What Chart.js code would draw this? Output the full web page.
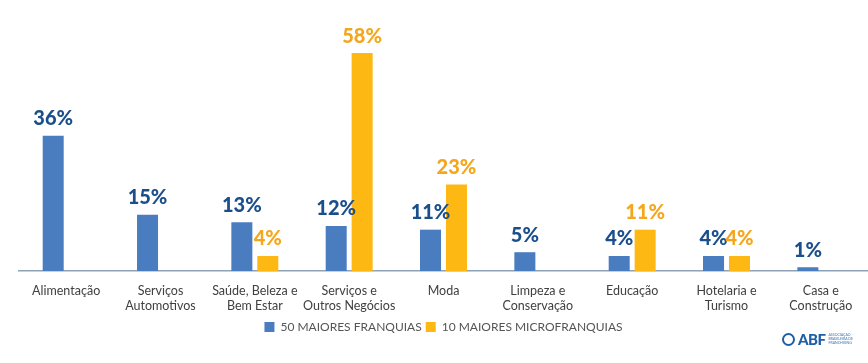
<!DOCTYPE html>
<html>
<head>
<meta charset="utf-8">
<script src="https://cdn.jsdelivr.net/npm/chart.js@4"></script>
<style>
  html, body { margin: 0; padding: 0; background: #fff; }
  #wrap { position: relative; width: 868px; height: 363px; }
  #logo { position: absolute; left: 782px; top: 330px; display: flex; align-items: center; font-family: Lato, sans-serif; color: #1f5fa8; }
  #logo .ic { width: 13px; height: 13px; border: 2px solid #1f5fa8; border-radius: 50%; box-sizing: border-box; margin-right: 3px; }
  #logo .abf { font-weight: 900; font-size: 15px; letter-spacing: -0.5px; }
  #logo .sub { font-size: 3.5px; line-height: 4px; margin-left: 3px; color: #3a74b8; }
</style>
</head>
<body>
<div id="wrap">
  <canvas id="chart" width="868" height="363"></canvas>
  <div id="logo"><div class="ic"></div><span class="abf">ABF</span><div class="sub">ASSOCIAÇÃO<br>BRASILEIRA DE<br>FRANCHISING</div></div>
</div>
<script>
const categorias = [
  ['Alimentação'],
  ['Serviços', 'Automotivos'],
  ['Saúde, Beleza e', 'Bem Estar'],
  ['Serviços e', 'Outros Negócios'],
  ['Moda'],
  ['Limpeza e', 'Conservação'],
  ['Educação'],
  ['Hotelaria e', 'Turismo'],
  ['Casa e', 'Construção']
]
const franquias = [36, 15, 13, 12, 11, 5, 4, 4, 1]
const microfranquias = [null, null, 4, 58, 23, null, 11, 4, null]

const coresTexto = ['#1b4f8c', '#f4a71c']

const etiquetas = {
  id: 'etiquetas',
  afterDatasetsDraw(chart) {
    const ctx = chart.ctx
    ctx.save()
    ctx.font = '900 20px Lato, sans-serif'
    ctx.textAlign = 'center'
    ctx.textBaseline = 'bottom'
    chart.data.datasets.forEach((ds, i) => {
      const meta = chart.getDatasetMeta(i)
      meta.data.forEach((bar, j) => {
        const v = ds.data[j]
        if (v === null) return
        ctx.fillStyle = coresTexto[i]
        ctx.fillText(v + '%', bar.x, bar.y - 7)
      })
    })
    ctx.restore()
  }
}

new Chart(document.getElementById('chart').getContext('2d'), {
  type: 'bar',
  data: {
    labels: categorias,
    datasets: [
      { label: '50 MAIORES FRANQUIAS', data: franquias, backgroundColor: '#4a7cc0' },
      { label: '10 MAIORES MICROFRANQUIAS', data: microfranquias, backgroundColor: '#fdb813' }
    ]
  },
  options: {
    responsive: false,
    animation: false,
    categoryPercentage: 0.55,
    barPercentage: 0.81,
    layout: { padding: { left: 19, right: 0, top: 8, bottom: 20 } },
    plugins: {
      legend: {
        position: 'bottom',
        labels: { boxWidth: 10, boxHeight: 10, color: '#555', font: { family: 'Lato', size: 12 }, padding: 4 }
      },
      tooltip: { enabled: false }
    },
    scales: {
      x: {
        grid: { display: false },
        border: { display: true, color: '#8ea2b8', width: 1.5 },
        ticks: { color: '#404040', font: { family: 'Lato', size: 12.5 }, maxRotation: 0, autoSkip: false, padding: 4 }
      },
      y: { display: false, beginAtZero: true, max: 70 }
    }
  },
  plugins: [etiquetas]
})
</script>
</body>
</html>
